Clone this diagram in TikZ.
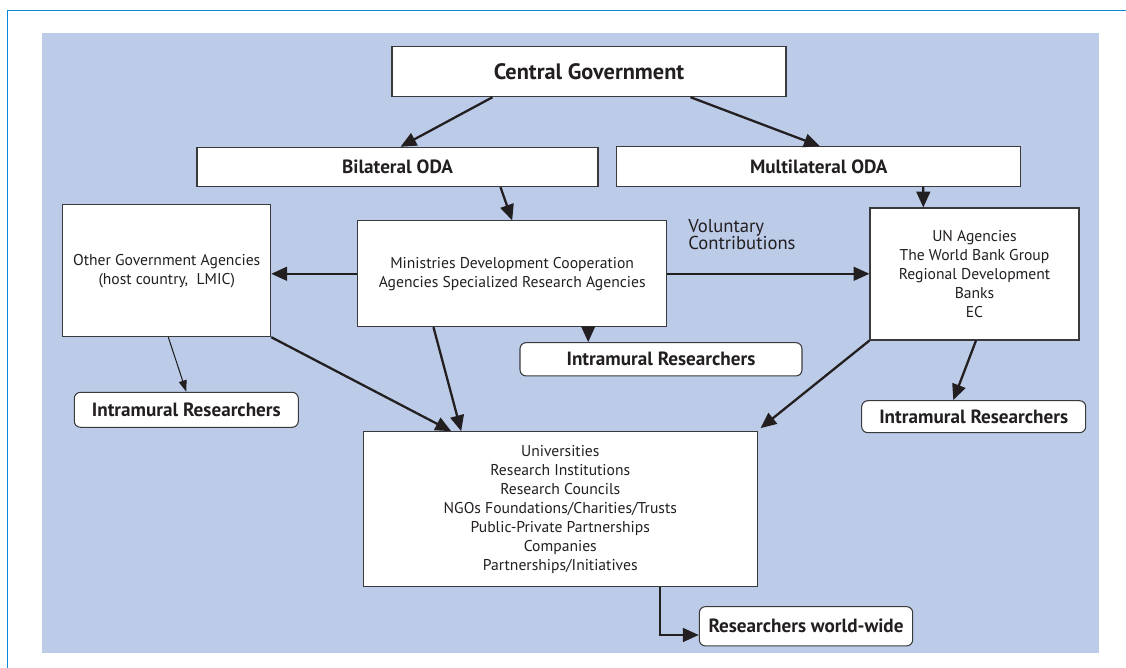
\documentclass[tikz,border=0pt]{standalone}
\usepackage{fontspec}
\setmainfont{PT Sans}
\usetikzlibrary{arrows.meta}
\definecolor{panel}{HTML}{BCCCE8}
\definecolor{frameline}{HTML}{0A8AD6}
\definecolor{ink}{HTML}{231F20}
\definecolor{boxline}{HTML}{3A3A3C}
\newdimen\px \px=0.02cm

\begin{document}
\begin{tikzpicture}[x=0.02cm,y=-0.02cm,
    box/.style={draw=boxline,fill=white,line width=0.6pt,inner sep=0pt,align=center,
      text=ink,font=\fontsize{8.9}{10.8}\selectfont},
    sz/.style 2 args={minimum width=#1\px,minimum height=#2\px},
    bold/.style={font=\bfseries\fontsize{10.9}{12}\selectfont},
    rbox/.style={box,bold,rounded corners=3.5pt},
    arr/.style={color=ink,line width=1.3pt,-{Triangle[length=9pt,width=7.8pt]}},
    finearr/.style={color=ink,line width=0.6pt,-{Triangle[length=6.5pt,width=4.5pt]}}]
  \useasboundingbox (0,0) rectangle (1126,668);
  % frame and panel
  \draw[frameline,line width=0.8pt] (7.5,668) -- (7.5,10.5) -- (1126,10.5);
  \fill[panel] (42,33) rectangle (1099,653);

  \node[box,sz={394}{50},font=\bfseries\fontsize{12.7}{14}\selectfont] (cg) at (589,71.7) {Central Government};
  \node[box,bold,sz={401}{39.4}] (bil) at (397.5,167) {Bilateral ODA};
  \node[box,bold,sz={404}{40}]   (mul) at (818.8,166.7) {Multilateral ODA};
  \node[box,sz={208}{131.7}] (oga) at (166.7,270.8) {Other Government Agencies\\(host country,\ \ LMIC)};
  \node[box,sz={309}{105.7}] (min) at (512.2,273.8) {Ministries Development Cooperation\\Agencies Specialized Research Agencies};
  \node[box,sz={209}{132}]   (un)  at (974.5,274) {UN Agencies\\The World Bank Group\\Regional Development\\Banks\\EC};
  \node[rbox,sz={282}{33.3}] (imM) at (661,359.3) {Intramural Researchers};
  \node[rbox,sz={224}{35}]   (imL) at (186.3,409.8) {Intramural Researchers};
  \node[rbox,sz={224}{32}]   (imR) at (973.7,416.7) {Intramural Researchers};
  \node[box,sz={394}{155}]   (uni) at (560.3,509.2) {Universities\\Research Institutions\\Research Councils\\NGOs Foundations/Charities/Trusts\\Public-Private Partnerships\\Companies\\Partnerships/Initiatives};
  \node[rbox,sz={213.4}{39.3}] (rww) at (806,626.3) {Researchers world-wide};
  \node[anchor=north west,inner sep=0pt,align=left,text=ink,font=\fontsize{10.6}{10}\selectfont]
    (vc) at (688,219) {Voluntary\\Contributions};

  \path[arr] ([xshift=101\px]cg.south west) edge ([xshift=3\px]bil.north)
             ([xshift=-96\px]cg.south east) edge ([xshift=1\px]mul.north)
             ([xshift=103\px]bil.south) edge (min.north)
             ([xshift=104.5\px]mul.south) edge ([xshift=-51.2\px]un.north)
             (min.west) edge (min.west -| oga.east)
             (min.east) edge (min.east -| un.west)
             ([xshift=76\px]min.south) edge ([xshift=76\px]min.south |- imM.north)
             (oga.south east) edge ([xshift=88.4\px]uni.north west)
             ([xshift=76.3\px]min.south west) edge ([xshift=98.4\px]uni.north west)
             (un.south west) edge ([xshift=2.7\px,yshift=3\px]uni.north east)
             ([xshift=1.5\px]un.south) edge ([xshift=-20.4\px]imR.north);
  \path[finearr] ([xshift=1.6\px]oga.south) edge (imL.north);
  \draw[arr] ([xshift=-98\px]uni.south east) |- ([yshift=-8.7\px]rww.west);
\end{tikzpicture}
\end{document}
